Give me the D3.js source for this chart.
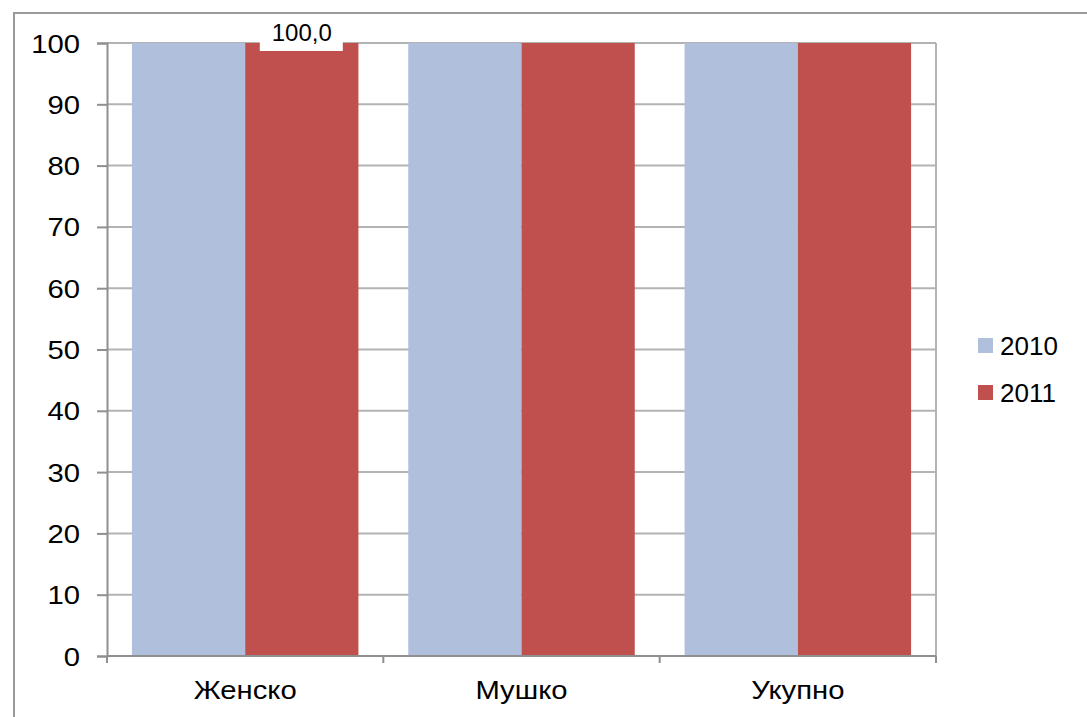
<!DOCTYPE html>
<html><head><meta charset="utf-8">
<script src="https://cdn.jsdelivr.net/npm/d3@7"></script>
<style>body{margin:0;background:#fff;}svg{display:block;font-family:"Liberation Sans",Arial,sans-serif;}</style>
</head><body>
<svg id="c" width="1087" height="717"></svg>
<script>
const categories = ["Женско", "Мушко", "Укупно"];
const seriesNames = ["2010", "2011"];
const values2010 = [100, 100, 100];
const values2011 = [100, 100, 100];
const yTicks = [0, 10, 20, 30, 40, 50, 60, 70, 80, 90, 100];
const colors = ["#B0C0DC", "#C0504D"];

const svg = d3.select("#c");
const L = 107, R = 936, T = 43, B = 656;
const FS = 25, SX = 1.17;

// outer frame
svg.append("rect").attr("x", 14).attr("y", 13).attr("width", 1100).attr("height", 720)
  .attr("fill", "none").attr("stroke", "#9a9a9a").attr("stroke-width", 2);

const x = d3.scaleBand().domain(categories).range([L, R]).paddingInner(0).paddingOuter(0);
const xs = d3.scaleBand().domain(seriesNames).range([0, x.bandwidth()]).paddingInner(0).paddingOuter(0.22);
const y = d3.scaleLinear().domain([0, 100]).range([B, T]);

// gridlines
svg.append("g").selectAll("line").data(yTicks.filter(d => d > 0)).join("line")
  .attr("x1", L).attr("x2", R).attr("y1", d => y(d)).attr("y2", d => y(d))
  .attr("stroke", "#b3b3b3").attr("stroke-width", 2);
svg.append("line").attr("x1", R).attr("x2", R).attr("y1", T).attr("y2", B).attr("stroke", "#b3b3b3").attr("stroke-width", 2);

// bars
const data = categories.map((c, i) => ({c, v: [values2010[i], values2011[i]]}));
const g = svg.append("g");
data.forEach(d => {
  g.selectAll(null).data(seriesNames.map((s, j) => ({s, v: d.v[j], j}))).join("rect")
    .attr("x", e => x(d.c) + xs(e.s)).attr("width", xs.bandwidth())
    .attr("y", e => y(e.v)).attr("height", e => y(0) - y(e.v))
    .attr("fill", e => colors[e.j]);
});

// y axis
const yAxis = d3.axisLeft(y).tickValues(yTicks).tickSize(10).tickFormat(d3.format("d"));
const ya = svg.append("g").attr("transform", `translate(${L},0)`).call(yAxis);
ya.select(".domain").attr("stroke", "#8f8f8f").attr("stroke-width", 2);
ya.selectAll(".tick line").attr("stroke", "#8f8f8f").attr("stroke-width", 2);
ya.selectAll(".tick text")
  .attr("x", null).attr("dy", null).attr("y", 9)
  .attr("transform", `translate(-27,0) scale(${SX},1)`)
  .attr("font-size", FS).attr("font-family", "Liberation Sans, Arial, sans-serif").attr("fill", "#000");

// x axis
const xa = svg.append("g").attr("transform", `translate(0,${B})`);
xa.append("line").attr("x1", L).attr("x2", R).attr("stroke", "#8f8f8f").attr("stroke-width", 2);
const bounds = categories.map(c => x(c)).concat([R]);
xa.selectAll("line.t").data(bounds).join("line").attr("class", "t")
  .attr("x1", d => d).attr("x2", d => d).attr("y1", 0).attr("y2", 7)
  .attr("stroke", "#8f8f8f").attr("stroke-width", 2);
xa.selectAll("text").data(categories).join("text")
  .attr("transform", d => `translate(${x(d) + x.bandwidth() / 2},43) scale(${SX},1)`)
  .attr("text-anchor", "middle").attr("font-size", FS).attr("fill", "#000").text(d => d);

// data label
const lx = x(categories[0]) + xs(seriesNames[1]) + xs.bandwidth() / 2;
const lblG = svg.append("g");
lblG.append("rect").attr("x", lx - 42).attr("y", y(values2011[0]) - 28).attr("width", 83).attr("height", 36).attr("fill", "#fff");
lblG.append("text").attr("x", lx).attr("y", y(values2011[0]) - 2).attr("text-anchor", "middle")
  .attr("font-size", 24).attr("fill", "#000").text(d3.format(".1f")(values2011[0]).replace(".", ","));

// legend
const lg = svg.append("g").attr("transform", "translate(978,338)");
seriesNames.forEach((s, i) => {
  lg.append("rect").attr("x", 0).attr("y", i * 47).attr("width", 15).attr("height", 15).attr("fill", colors[i]);
  lg.append("text").attr("x", 22).attr("y", i * 47 + 17).attr("font-size", 26).attr("fill", "#000").text(s);
});
</script>
</body></html>
